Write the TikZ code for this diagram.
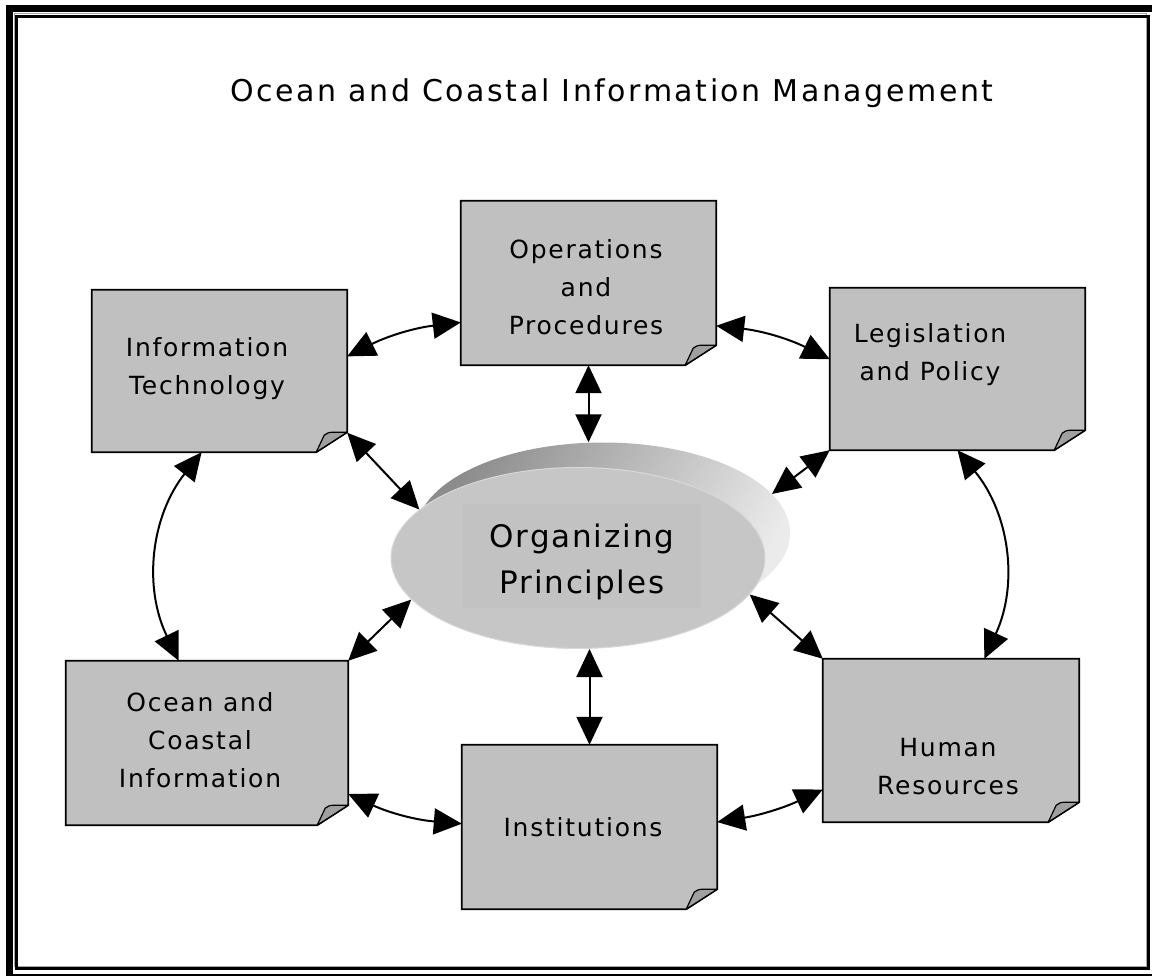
\documentclass[tikz,border=0pt]{standalone}
\usepackage{fontspec}
\usetikzlibrary{arrows.meta,calc,fit,shapes.geometric}
\newfontfamily\titlefont[LetterSpace=8.5]{DejaVu Sans}
\newfontfamily\boxfont[LetterSpace=7]{DejaVu Sans}
\newfontfamily\orgfont[LetterSpace=6]{DejaVu Sans}
\definecolor{boxgray}{HTML}{C0C0C0}
\definecolor{foldgray}{HTML}{A0A0A0}
\definecolor{ellgray}{HTML}{C6C6C6}
\definecolor{textbg}{HTML}{C2C2C2}
\tikzset{
  pbox/.style={inner sep=0pt, draw=none},
  boxline/.style={draw=black, line width=1.8pt, fill=boxgray, line join=miter},
  lbl/.style={align=center, font=\boxfont\fontsize{25}{38}\selectfont, text=black},
  dar/.style={{Triangle[length=28pt,width=26pt]}-{Triangle[length=28pt,width=26pt]}, line width=2pt},
}
\newcommand\dogbox[1]{%
  \draw[boxline] (#1.north west) -- (#1.north east) -- ($(#1.south east)+(0,-20)$)
     -- ($(#1.south east)+(-31,0)$) -- (#1.south west) -- cycle;
  \draw[fill=foldgray, draw=black, line width=1.2pt, line join=round]
     ($(#1.south east)+(-31,0)$) -- ($(#1.south east)+(-23,-17)$)
     .. controls ($(#1.south east)+(-21,-19)$) and ($(#1.south east)+(-18,-20)$) ..
     ($(#1.south east)+(-14,-20)$) -- ($(#1.south east)+(0,-20)$) -- cycle;
}
\begin{document}
\begin{tikzpicture}[x=1pt,y=-1pt]
\useasboundingbox (0,0) rectangle (1152,976);
\clip (0,0) rectangle (1152,976);
\fill[white] (0,0) rectangle (1152,976);
% frame
\draw[line width=7pt] (9.5,8.5) rectangle (1170,977);
\draw[gray!70, line width=1pt] (14,13.5) rectangle (1146,966);
\draw[line width=2.5pt] (16.5,16.5) rectangle (1148.5,968.5);
% title
\node (title) at (612,93) {\titlefont\fontsize{30}{32}\selectfont Ocean and Coastal Information Management};
% boxes
\node[pbox, fit={(92,290)(347,452)}] (it) {};
\node[pbox, fit={(461,201)(716,365)}] (op) {};
\node[pbox, fit={(830,288)(1085,450)}] (lp) {};
\node[pbox, fit={(66,661)(348,825)}] (oci) {};
\node[pbox, fit={(462,745)(717,909)}] (inst) {};
\node[pbox, fit={(823,659)(1079,822)}] (hr) {};
\dogbox{it}\dogbox{op}\dogbox{lp}\dogbox{oci}\dogbox{inst}\dogbox{hr}
\node[lbl] (itT) at (207,369) {Information\\Technology};
\node[lbl] (opT) at (586,287) {Operations\\and\\Procedures};
\node[lbl] (lpT) at (930,355) {Legislation\\and Policy};
\node[lbl] (ociT) at (200,740) {Ocean and\\Coastal\\Information};
\node[lbl] (instT) at (583,827) {Institutions};
\node[lbl] (hrT) at (948,767) {Human\\Resources};
% ellipse
\node[ellipse, minimum width=374pt, minimum height=181pt, inner sep=0pt,
      shading=axis, left color=black!45, right color=black!8, shading angle=60] (back) at (603,533) {};
\node[ellipse, minimum width=374pt, minimum height=181pt, inner sep=0pt,
      fill=ellgray, draw=black!15, line width=1pt] (org) at (578,558) {};
\fill[textbg] (462,504) rectangle (701,608);
\node[align=center, font=\orgfont\fontsize{31}{46}\selectfont, text=black] (orgT) at (582,562) {Organizing\\Principles};
% arrows between boxes
\draw[dar] ($(it.north east)!0.41!(it.south east)$) to[bend left=10] ($(op.north west)!0.74!(op.south west)$);
\draw[dar] ($(op.north east)!0.76!(op.south east)$) to[bend left=10] ($(lp.north west)!0.44!(lp.south west)$);
\draw[dar] ($(it.south west)!0.43!(it.south east)$) to[bend right=32] ($(oci.north west)!0.40!(oci.north east)$);
\draw[dar] ($(lp.south west)!0.50!(lp.south east)$) to[bend left=32] ($(hr.north west)!0.63!(hr.north east)$);
\draw[dar] ($(oci.north east)!0.81!(oci.south east)$) to[bend right=10] ($(inst.north west)!0.48!(inst.south west)$);
\draw[dar] ($(inst.north east)!0.47!(inst.south east)$) to[bend right=8] ($(hr.north west)!0.80!(hr.south west)$);
% arrows to centre
\draw[dar] (op.south) -- (op.south |- back.north);
\draw[dar] (inst.north) -- (inst.north |- org.south);
\draw[dar] ($(it.north east)!0.88!(it.south east)$) -- (org.163);
\draw[dar] (oci.north east) -- (org.194);
\draw[dar] (lp.south west) -- (back.13);
\draw[dar] (hr.north west) -- (org.348);
\end{tikzpicture}
\end{document}
